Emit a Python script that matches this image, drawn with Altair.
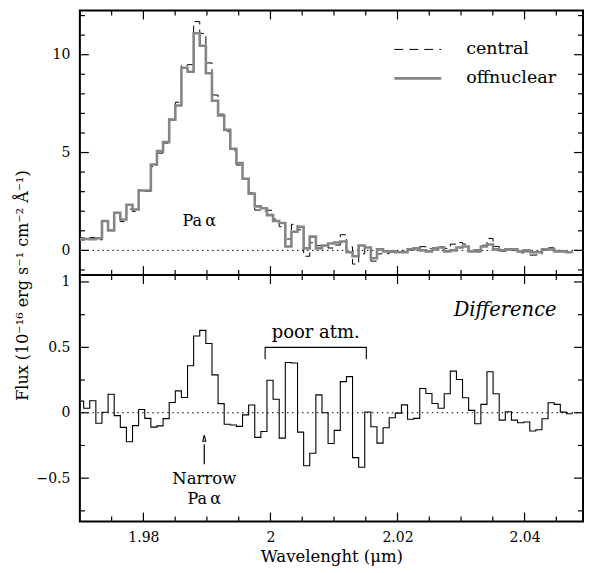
import altair as alt
import pandas as pd

FONT = "DejaVu Serif"
W = 504
H_TOP = 265
H_BOT = 247

# spectral sampling (left edge of first, partially clipped, bin and bin width in micron)
BIN_START = 1.96963
BIN_WIDTH = 0.000962

offnuclear = [0.55, 0.58, 0.57, 0.62, 1.50, 1.02, 1.92, 1.58, 2.33, 2.09,
              3.06, 3.06, 4.39, 5.07, 5.53, 6.68, 7.40, 9.33, 9.13, 11.10,
              10.46, 9.05, 7.65, 6.89, 6.16, 5.19, 4.46, 3.66, 2.90, 2.25,
              2.15, 1.80, 1.50, 1.40, 0.20, 0.95, 1.20, 0.10, 0.70, 0.10,
              0.25, 0.35, 0.40, 0.45, -0.10, -0.30, 0.25, 0.15, -0.40, 0.05,
              -0.05, -0.05, -0.10, -0.10, 0.05, 0.10, 0.00, -0.05, 0.05, 0.15,
              -0.05, 0.00, 0.15, 0.20, -0.05, 0.00, 0.20, 0.30, 0.05, 0.00,
              0.05, 0.05, -0.05, 0.00, -0.10, -0.10, 0.05, 0.05, -0.05, -0.05,
              -0.10]

central = [0.64, 0.62, 0.66, 0.54, 1.50, 1.16, 1.90, 1.47, 2.11, 1.99,
           3.09, 3.02, 4.28, 4.97, 5.48, 6.76, 7.57, 9.45, 9.49, 11.69,
           11.09, 9.58, 7.94, 6.96, 6.07, 5.10, 4.36, 3.64, 2.96, 2.06,
           2.01, 2.05, 1.60, 1.21, 0.58, 1.33, 1.05, -0.30, 0.39, 0.24,
           0.25, 0.12, 0.27, 0.80, 0.18, -0.70, -0.17, 0.16, -0.55, -0.18,
           -0.17, -0.09, -0.10, -0.04, 0.00, 0.06, 0.19, 0.10, 0.12, 0.19,
           0.10, 0.32, 0.40, 0.32, -0.03, -0.08, 0.26, 0.61, 0.20, -0.06,
           0.06, -0.01, -0.13, -0.07, -0.24, -0.23, 0.00, 0.13, 0.01, -0.04,
           -0.11]

difference = [0.089, 0.035, 0.092, -0.080, 0.004, 0.142, -0.022, -0.112, -0.222, -0.098,
              0.025, -0.043, -0.110, -0.100, -0.045, 0.078, 0.167, 0.117, 0.359, 0.587,
              0.630, 0.530, 0.290, 0.070, -0.088, -0.094, -0.104, -0.016, 0.059, -0.188,
              -0.143, 0.248, 0.103, -0.194, 0.384, 0.381, -0.148, -0.405, -0.310, 0.137,
              0.000, -0.235, -0.135, 0.238, 0.276, -0.343, -0.417, 0.006, -0.107, -0.232,
              -0.115, -0.038, -0.003, 0.060, -0.050, -0.043, 0.186, 0.147, 0.071, 0.035,
              0.145, 0.318, 0.254, 0.115, 0.018, -0.084, 0.064, 0.313, 0.145, -0.056,
              0.008, -0.056, -0.076, -0.071, -0.140, -0.130, -0.046, 0.076, 0.064, 0.005,
              -0.008]

x_major = [1.98, 2.00, 2.02, 2.04]
x_minor = [1.975, 1.985, 1.990, 1.995, 2.005, 2.010, 2.015, 2.025, 2.030, 2.035, 2.045]
top_major = [0, 5, 10]
top_minor = [-1, 1, 2, 3, 4, 6, 7, 8, 9, 11, 12]
bot_major = [-0.5, 0, 0.5, 1]
bot_minor = [-0.75, -0.25, 0.25, 0.75]

X_DOMAIN = [1.970, 2.0492]
TOP_DOMAIN = [-1.26, 12.26]
BOT_DOMAIN = [-0.832, 1.053]

n = len(difference)
edges = [BIN_START + i * BIN_WIDTH for i in range(n + 1)]


def steps(vals):
    return pd.DataFrame({"wl": edges, "flux": list(vals) + [vals[-1]]})


xscale = alt.Scale(domain=X_DOMAIN, nice=False, zero=False)
ytop = alt.Scale(domain=TOP_DOMAIN, nice=False, zero=False)
ybot = alt.Scale(domain=BOT_DOMAIN, nice=False, zero=False)

# one axis definition per channel and panel, reused by every layer so they merge
AX_TOP_Y = alt.Axis(
    values=top_major, format="d", ticks=False, domain=False, grid=False,
    labelPadding=10, labelFontSize=14,
    title="Flux (10⁻¹⁶ erg s⁻¹ cm⁻² Å⁻¹)", titleFontSize=16,
    titleX=-57, titleY=275, titleAngle=-90, titleAlign="center",
    titleBaseline="middle")
AX_BOT_X = alt.Axis(
    values=x_major, format="~g", ticks=False, domain=False, grid=False,
    labelPadding=9, labelFontSize=14,
    title="Wavelenght (μm)", titleFontSize=16.5, titlePadding=4)
AX_BOT_Y = alt.Axis(
    values=bot_major, format="~g", ticks=False, domain=False, grid=False,
    labelPadding=10, labelFontSize=14, title=None)

MAJ, MIN = 9, 5


def X(field, top):
    if top:
        return alt.X(field, type="quantitative", scale=xscale, axis=None)
    return alt.X(field, type="quantitative", scale=xscale, axis=AX_BOT_X)


def Y(field, top):
    return alt.Y(field, type="quantitative", scale=ytop if top else ybot,
                 axis=AX_TOP_Y if top else AX_BOT_Y)


def x_ticks(vals, L, H, top):
    df = pd.DataFrame({"t": vals})
    base = alt.Chart(df).mark_rule(color="black", strokeWidth=1.2)
    return [base.encode(x=X("t", top), y=alt.value(0), y2=alt.value(L)),
            base.encode(x=X("t", top), y=alt.value(H), y2=alt.value(H - L))]


def y_ticks(vals, L, top):
    df = pd.DataFrame({"t": vals})
    base = alt.Chart(df).mark_rule(color="black", strokeWidth=1.2)
    return [base.encode(y=Y("t", top), x=alt.value(0), x2=alt.value(L)),
            base.encode(y=Y("t", top), x=alt.value(W), x2=alt.value(W - L))]


def zero_line(top):
    return alt.Chart(pd.DataFrame({"z": [0]})).mark_rule(
        color="black", strokeDash=[1.5, 3.5], strokeWidth=1
    ).encode(y=Y("z", top))


# ---------------- top panel ----------------
central_line = alt.Chart(steps(central)).mark_line(
    interpolate="step-after", color="black", strokeWidth=1, strokeDash=[8, 5], clip=True
).encode(x=X("wl", True), y=Y("flux", True))

off_line = alt.Chart(steps(offnuclear)).mark_line(
    interpolate="step-after", color="#858585", strokeWidth=2.6, clip=True
).encode(x=X("wl", True), y=Y("flux", True))

top_ann = alt.Chart(pd.DataFrame({"x": [1.9888], "y": [1.24], "t": ["Pa\u2009α"]})).mark_text(
    font=FONT, fontSize=16, baseline="alphabetic", align="center", color="black"
).encode(x=X("x", True), y=Y("y", True), text="t:N")

one = pd.DataFrame({"a": [0]})
leg_dash = alt.Chart(one).mark_rule(color="black", strokeWidth=1, strokeDash=[9, 6]).encode(
    x=alt.value(315), x2=alt.value(362), y=alt.value(39))
leg_gray = alt.Chart(one).mark_rule(color="#858585", strokeWidth=2.6).encode(
    x=alt.value(315), x2=alt.value(362), y=alt.value(68))
leg_t1 = alt.Chart(one).mark_text(font=FONT, fontSize=17.5, align="left", baseline="middle", color="black").encode(
    x=alt.value(387), y=alt.value(39), text=alt.value("central"))
leg_t2 = alt.Chart(one).mark_text(font=FONT, fontSize=17.5, align="left", baseline="middle", color="black").encode(
    x=alt.value(387), y=alt.value(68), text=alt.value("offnuclear"))

top = alt.layer(
    zero_line(True), central_line, off_line,
    *x_ticks(x_major, MAJ, H_TOP, True), *x_ticks(x_minor, MIN, H_TOP, True),
    *y_ticks(top_major, MAJ, True), *y_ticks(top_minor, MIN, True),
    top_ann, leg_dash, leg_gray, leg_t1, leg_t2,
).properties(width=W, height=H_TOP)

# ---------------- bottom panel ----------------
diff_line = alt.Chart(steps(difference)).mark_line(
    interpolate="step-after", color="black", strokeWidth=1.1, clip=True
).encode(x=X("wl", False), y=Y("flux", False))

bot_text = pd.DataFrame({
    "x": [1.98958, 1.98958, 2.00713],
    "y": [-0.547, -0.697, 0.57],
    "t": ["Narrow", "Pa\u2009α", "poor atm."],
    "s": [16.5, 16, 18],
})
bot_ann = alt.Chart(bot_text).mark_text(
    font=FONT, baseline="alphabetic", align="center", color="black"
).encode(x=X("x", False), y=Y("y", False),
         text="t:N", size=alt.Size("s:Q", scale=None, legend=None))

diff_label = alt.Chart(pd.DataFrame({"x": [2.03694], "y": [0.738], "t": ["Difference"]})).mark_text(
    font=FONT, fontSize=19.5, fontStyle="italic", baseline="alphabetic", align="center", color="black"
).encode(x=X("x", False), y=Y("y", False), text="t:N")

bracket = alt.Chart(pd.DataFrame({
    "x": [1.99916, 1.99916, 2.01509, 2.01509],
    "y": [0.41, 0.50, 0.50, 0.41],
    "i": [0, 1, 2, 3],
})).mark_line(color="black", strokeWidth=1.1).encode(
    x=X("x", False), y=Y("y", False), order="i:Q")

arrow_shaft = alt.Chart(pd.DataFrame({"x": [1.98958], "y": [-0.24], "y2": [-0.394]})).mark_rule(
    color="black", strokeWidth=1.2
).encode(x=X("x", False), y=Y("y", False), y2="y2:Q")

arrow_head = alt.Chart(pd.DataFrame({"x": [1.98958], "y": [-0.194]})).mark_point(
    shape="M0,-0.5L0.24,0.5L-0.24,0.5Z", size=150, filled=True, fill="white",
    stroke="black", strokeWidth=1.1, opacity=1
).encode(x=X("x", False), y=Y("y", False))

bottom = alt.layer(
    zero_line(False), diff_line,
    *x_ticks(x_major, MAJ, H_BOT, False), *x_ticks(x_minor, MIN, H_BOT, False),
    *y_ticks(bot_major, MAJ, False), *y_ticks(bot_minor, MIN, False),
    bot_ann, diff_label, bracket, arrow_shaft, arrow_head,
).properties(width=W, height=H_BOT)

chart = alt.vconcat(top, bottom, spacing=0, bounds="flush").properties(
    padding={"left": 6, "top": 0, "right": 0, "bottom": 0}, background="white"
).configure_view(
    stroke="black", strokeWidth=2
).configure_axis(
    labelFont=FONT, titleFont=FONT, labelColor="black", titleColor="black",
    titleFontWeight="normal"
)

chart.save("out.html", embed_options={"renderer": "svg", "actions": False})
